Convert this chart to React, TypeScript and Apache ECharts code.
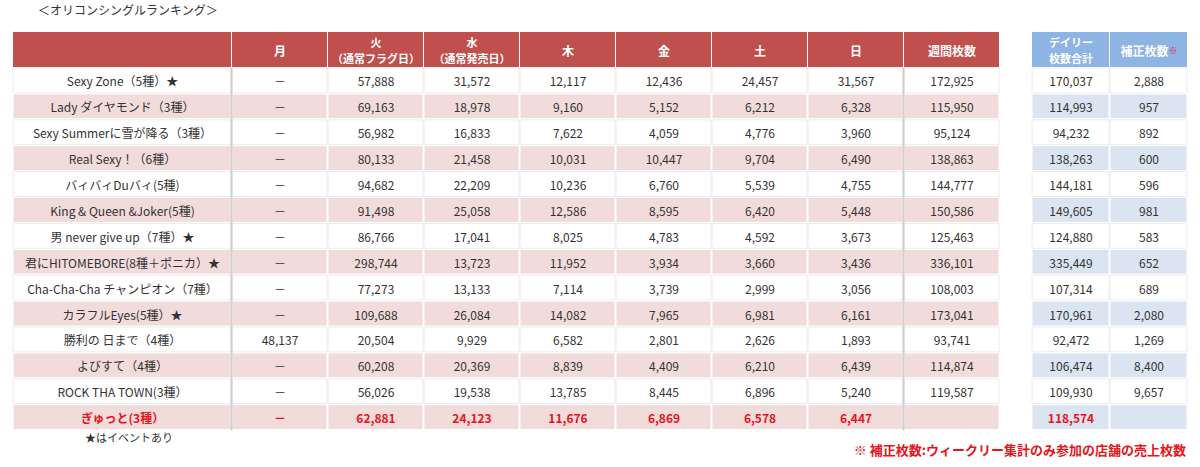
import React, { useEffect, useRef } from "react";
import * as echarts from "echarts";

const title = "＜オリコンシングルランキング＞";
const headers = ["", "月", "火\n（通常フラグ日）", "水\n（通常発売日）", "木", "金", "土", "日", "週間枚数"];
const rightHeaders = ["デイリー\n枚数合計", "補正枚数"];
const names = [
  "Sexy Zone（5種）★",
  "Lady ダイヤモンド（3種）",
  "Sexy Summerに雪が降る（3種）",
  "Real Sexy！（6種）",
  "バィバィDuバィ(5種)",
  "King & Queen &Joker(5種)",
  "男 never give up（7種）★",
  "君にHITOMEBORE(8種＋ポニカ）★",
  "Cha-Cha-Cha チャンピオン（7種）",
  "カラフルEyes(5種）★",
  "勝利の 日まで（4種）",
  "よびすて（4種）",
  "ROCK THA TOWN(3種）",
  "ぎゅっと(3種）",
];
const mon: (number | null)[] = [null, null, null, null, null, null, null, null, null, null, 48137, null, null, null];
const tue = [57888, 69163, 56982, 80133, 94682, 91498, 86766, 298744, 77273, 109688, 20504, 60208, 56026, 62881];
const wed = [31572, 18978, 16833, 21458, 22209, 25058, 17041, 13723, 13133, 26084, 9929, 20369, 19538, 24123];
const thu = [12117, 9160, 7622, 10031, 10236, 12586, 8025, 11952, 7114, 14082, 6582, 8839, 13785, 11676];
const fri = [12436, 5152, 4059, 10447, 6760, 8595, 4783, 3934, 3739, 7965, 2801, 4409, 8445, 6869];
const sat = [24457, 6212, 4776, 9704, 5539, 6420, 4592, 3660, 2999, 6981, 2626, 6210, 6896, 6578];
const sun = [31567, 6328, 3960, 6490, 4755, 5448, 3673, 3436, 3056, 6161, 1893, 6439, 5240, 6447];
const weekly: (number | null)[] = [172925, 115950, 95124, 138863, 144777, 150586, 125463, 336101, 108003, 173041, 93741, 114874, 119587, null];
const dailyTotal = [170037, 114993, 94232, 138263, 144181, 149605, 124880, 335449, 107314, 170961, 92472, 106474, 109930, 118574];
const hosei: (number | null)[] = [2888, 957, 892, 600, 596, 981, 583, 652, 689, 2080, 1269, 8400, 9657, null];
const footStar = "★はイベントあり";
const footNote = "※ 補正枚数:ウィークリー集計のみ参加の店舗の売上枚数";

const FONT = "'Noto Sans CJK JP', 'Noto Sans', sans-serif";

function fmt(v: number | null, dash: boolean): string {
  if (v === null) return dash ? "－" : "";
  return v.toLocaleString("en-US");
}

function headerTexts(h: string, cx: number, top: number, height: number, extra?: any): any[] {
  const lines = h.split("\n");
  const out: any[] = [];
  const lh = 16;
  const fs = lines.length > 1 ? 11 : 12;
  const start = top + height / 2 - ((lines.length - 1) * lh) / 2;
  lines.forEach((ln, k) => {
    const isLast = k === lines.length - 1;
    const style: any = extra && isLast
      ? { text: "{a|" + ln + "}{b|※}", align: "center", verticalAlign: "middle", rich: {
          a: { fill: "#fff", fontSize: fs, fontWeight: "bold", fontFamily: FONT },
          b: { fill: "#e8141b", fontSize: 9, fontWeight: "bold", fontFamily: FONT } } }
      : { text: ln, fill: "#fff", fontSize: fs, fontWeight: "bold", fontFamily: FONT, align: "center", verticalAlign: "middle" };
    out.push({ type: "text", x: cx, y: start + k * lh, style });
  });
  return out;
}

function buildGraphics() {
  const g: any[] = [];
  const left = 13;
  const colW = [219, 96, 96, 96, 96, 96, 96, 96, 96];
  const rLeft = 1032;
  const rColW = [78, 78];
  const headTop = 32;
  const headH = 36;
  const rowTop = 68;
  const rowH = 25.9;
  const nRows = names.length;
  const red = "#c0504d";
  const pink = "#f2dcdb";
  const blue = "#8db4e2";
  const lblue = "#dbe5f1";
  const txt = "#333333";
  const hot = "#e8141b";

  g.push({ type: "text", left: 38, top: 3, style: { text: title, fontSize: 12, fill: "#333", fontFamily: FONT } });

  const colX: number[] = [];
  let x = left;
  colW.forEach((w) => { colX.push(x); x += w; });
  const rColX: number[] = [];
  x = rLeft;
  rColW.forEach((w) => { rColX.push(x); x += w; });

  headers.forEach((h, i) => {
    g.push({ type: "rect", shape: { x: colX[i], y: headTop, width: colW[i] - 1, height: headH - 1 }, style: { fill: red } });
    if (h) g.push(...headerTexts(h, colX[i] + colW[i] / 2, headTop, headH));
  });
  rightHeaders.forEach((h, i) => {
    g.push({ type: "rect", shape: { x: rColX[i], y: headTop, width: rColW[i] - 1, height: headH - 1 }, style: { fill: blue } });
    g.push(...headerTexts(h, rColX[i] + rColW[i] / 2, headTop, headH, i === 1));
  });

  const cols = [mon, tue, wed, thu, fri, sat, sun, weekly];
  for (let r = 0; r < nRows; r++) {
    const y = rowTop + r * rowH;
    const isPink = r % 2 === 1;
    const last = r === nRows - 1;
    const color = last ? hot : txt;
    const weight = last ? "bold" : "normal";
    for (let c = 0; c < colW.length; c++) {
      g.push({
        type: "rect", shape: { x: colX[c], y: y, width: colW[c] - 1, height: rowH - 1 },
        style: { fill: isPink ? pink : "#fff", stroke: isPink ? "#fff" : "#ececec", lineWidth: 1 },
      });
      const text = c === 0 ? names[r] : fmt(cols[c - 1][r], c === 1);
      if (text) {
        g.push({
          type: "text", x: colX[c] + colW[c] / 2, y: y + rowH / 2,
          style: { text, fill: color, fontSize: 12, fontWeight: weight, fontFamily: FONT, align: "center", verticalAlign: "middle" },
        });
      }
    }
    const rcols = [dailyTotal, hosei];
    for (let c = 0; c < rColW.length; c++) {
      g.push({
        type: "rect", shape: { x: rColX[c], y: y, width: rColW[c] - 1, height: rowH - 1 },
        style: { fill: isPink ? lblue : "#fff", stroke: isPink ? "#fff" : "#ececec", lineWidth: 1 },
      });
      const text = fmt(rcols[c][r], false);
      if (text) {
        g.push({
          type: "text", x: rColX[c] + rColW[c] / 2, y: y + rowH / 2,
          style: { text, fill: color, fontSize: 12, fontWeight: weight, fontFamily: FONT, align: "center", verticalAlign: "middle" },
        });
      }
    }
  }
  const bottom = rowTop + nRows * rowH;
  [colX[1], colX[8]].forEach((sx) => {
    g.push({ type: "line", shape: { x1: sx - 0.5, y1: rowTop, x2: sx - 0.5, y2: bottom }, style: { stroke: "#cfcfcf", lineWidth: 2 } });
  });

  g.push({ type: "text", x: 85, y: bottom + 6, style: { text: footStar, fill: "#333", fontSize: 11, fontFamily: FONT, verticalAlign: "middle" } });
  g.push({ type: "text", x: 1186, y: bottom + 19, style: { text: footNote, fill: hot, fontSize: 13, fontWeight: "bold", fontFamily: FONT, align: "right", verticalAlign: "middle" } });
  return g;
}

export default function App() {
  const ref = useRef<HTMLDivElement>(null);
  useEffect(() => {
    if (!ref.current) return;
    const chart = echarts.init(ref.current, null, { renderer: "svg" });
    chart.setOption({
      animation: false,
      backgroundColor: "#ffffff",
      graphic: buildGraphics(),
    });
    return () => chart.dispose();
  }, []);
  return <div ref={ref} style={{ position: "fixed", left: 0, top: 0, width: 1200, height: 467 }} />;
}
